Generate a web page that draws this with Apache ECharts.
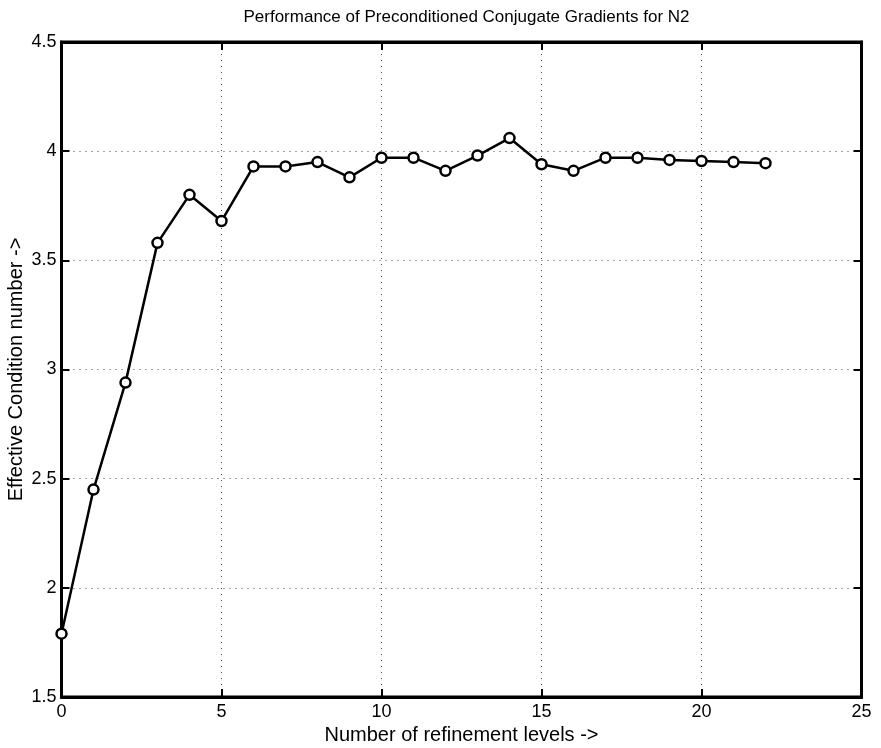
<!DOCTYPE html>
<html>
<head>
<meta charset="utf-8">
<script src="https://cdn.jsdelivr.net/npm/echarts@6/dist/echarts.min.js"></script>
<style>
html,body{margin:0;padding:0;background:#fff;}
#chart{width:881px;height:748px;}
</style>
</head>
<body>
<div id="chart"></div>
<script>
const titleText = "Performance of Preconditioned Conjugate Gradients for N2";
const xName = "Number of refinement levels ->";
const yName = "Effective Condition number ->";
const levels = [0,1,2,3,4,5,6,7,8,9,10,11,12,13,14,15,16,17,18,19,20,21,22];
const condNumber = [1.79,2.45,2.94,3.58,3.80,3.68,3.93,3.93,3.95,3.88,3.97,3.97,3.91,3.98,4.06,3.94,3.91,3.97,3.97,3.96,3.955,3.95,3.945];

const FONT = "Liberation Sans";
const GL = 61.5, GR = 19.5, W = 881;
const titleSize = 17;
const ctx = document.createElement('canvas').getContext('2d');
ctx.font = titleSize + "px '" + FONT + "'";
const titleW = ctx.measureText(titleText).width;
const plotCenter = GL + (W - GL - GR) / 2;

const chart = echarts.init(document.getElementById('chart'));
const splitDotted = {show:true, lineStyle:{color:'#444', width:1, type:[1,5]}};
const tick = {show:true,inside:true,length:8,lineStyle:{color:'#000',width:2}};
const axLine = {show:true,onZero:false,lineStyle:{color:'#000',width:3}};
chart.setOption({
  animation:false,
  backgroundColor:'#fff',
  title:{text:titleText,left:plotCenter - titleW/2,top:4,textStyle:{fontFamily:FONT,fontSize:titleSize,fontWeight:'normal',color:'#000'}},
  grid:{left:GL,right:GR,top:42,bottom:51,containLabel:false,outerBoundsMode:'none',show:true,borderColor:'#000',borderWidth:3,backgroundColor:'transparent'},
  xAxis:[{
    type:'value',min:0,max:25,interval:5,position:'bottom',
    name:xName,nameLocation:'middle',nameGap:28,nameMoveOverlap:false,
    nameTextStyle:{fontFamily:FONT,fontSize:20,color:'#000'},
    axisLine:axLine, axisTick:tick,
    axisLabel:{fontFamily:FONT,fontSize:18,color:'#000',margin:6},
    splitLine:splitDotted
  },{
    type:'value',min:0,max:25,interval:5,position:'top',
    axisLine:axLine, axisTick:tick,
    axisLabel:{show:false},splitLine:{show:false}
  }],
  yAxis:[{
    type:'value',min:1.5,max:4.5,interval:0.5,position:'left',
    name:yName,nameLocation:'middle',nameGap:35,nameMoveOverlap:false,
    nameTextStyle:{fontFamily:FONT,fontSize:20,color:'#000'},
    axisLine:axLine, axisTick:tick,
    axisLabel:{fontFamily:FONT,fontSize:18,color:'#000',margin:5},
    splitLine:splitDotted
  },{
    type:'value',min:1.5,max:4.5,interval:0.5,position:'right',
    axisLine:axLine, axisTick:tick,
    axisLabel:{show:false},splitLine:{show:false}
  }],
  series:[{
    type:'line',
    data:levels.map((x,i)=>[x,condNumber[i]]),
    xAxisIndex:0,yAxisIndex:0,
    symbol:'circle',symbolSize:10,showAllSymbol:true,
    lineStyle:{color:'#000',width:2.5},
    itemStyle:{color:'#fff',borderColor:'#000',borderWidth:2.5},
    emphasis:{disabled:true}
  }]
});
</script>
</body>
</html>
